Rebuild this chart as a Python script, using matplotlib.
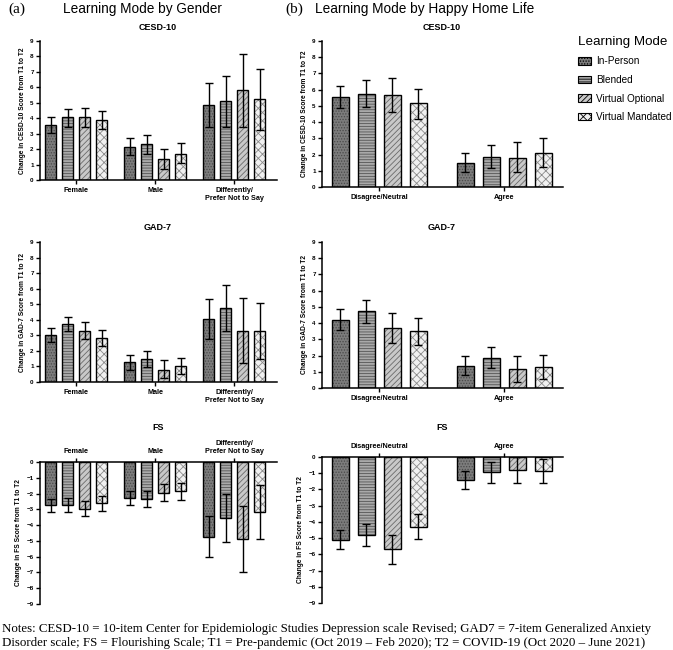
import matplotlib
matplotlib.use("Agg")
import matplotlib.pyplot as plt
import numpy as np
from matplotlib.patches import Patch

plt.rcParams['font.family'] = ['Liberation Sans', 'DejaVu Sans']
plt.rcParams['hatch.linewidth'] = 0.6

modes = ["In-Person", "Blended", "Virtual Optional", "Virtual Mandated"]
gender_groups = ["Female", "Male", "Differently/\nPrefer Not to Say"]
home_groups = ["Disagree/Neutral", "Agree"]

# means [group][mode], lower and upper error limits
cesd_gender_mean = [[3.55, 4.05, 4.05, 3.9], [2.15, 2.3, 1.35, 1.7], [4.85, 5.1, 5.8, 5.25]]
cesd_gender_lo = [[3.05, 3.45, 3.45, 3.3], [1.6, 1.7, 0.7, 1.1], [3.45, 3.4, 3.45, 3.25]]
cesd_gender_hi = [[4.05, 4.6, 4.65, 4.5], [2.7, 2.9, 2.0, 2.4], [6.3, 6.75, 8.15, 7.2]]

cesd_home_mean = [[5.55, 5.75, 5.65, 5.15], [1.5, 1.85, 1.8, 2.1]]
cesd_home_lo = [[4.85, 4.95, 4.6, 4.2], [0.9, 1.15, 0.9, 1.25]]
cesd_home_hi = [[6.25, 6.6, 6.7, 6.05], [2.1, 2.6, 2.75, 3.0]]

gad_gender_mean = [[3.0, 3.7, 3.3, 2.8], [1.3, 1.45, 0.8, 1.0], [4.05, 4.75, 3.25, 3.3]]
gad_gender_lo = [[2.6, 3.25, 2.75, 2.3], [0.8, 0.95, 0.25, 0.5], [2.75, 3.25, 1.2, 1.5]]
gad_gender_hi = [[3.45, 4.2, 3.85, 3.35], [1.75, 2.0, 1.4, 1.55], [5.35, 6.25, 5.4, 5.1]]

gad_home_mean = [[4.2, 4.75, 3.7, 3.5], [1.35, 1.85, 1.15, 1.3]]
gad_home_lo = [[3.55, 4.0, 2.8, 2.65], [0.8, 1.25, 0.35, 0.55]]
gad_home_hi = [[4.85, 5.45, 4.65, 4.3], [1.95, 2.55, 2.0, 2.05]]

fs_gender_mean = [[-2.75, -2.7, -2.95, -2.6], [-2.25, -2.35, -1.95, -1.85], [-4.75, -3.55, -4.85, -3.15]]
fs_gender_lo = [[-3.15, -3.15, -3.45, -3.1], [-2.75, -2.85, -2.5, -2.4], [-6.0, -5.05, -6.95, -4.9]]
fs_gender_hi = [[-2.35, -2.25, -2.45, -2.15], [-1.85, -1.85, -1.4, -1.35], [-3.45, -2.05, -2.8, -1.45]]

fs_home_mean = [[-5.1, -4.8, -5.7, -4.3], [-1.4, -0.95, -0.8, -0.85]]
fs_home_lo = [[-5.7, -5.5, -6.6, -5.05], [-1.95, -1.6, -1.6, -1.6]]
fs_home_hi = [[-4.5, -4.1, -4.8, -3.5], [-0.85, -0.3, 0.0, -0.1]]

styles = [
    dict(face="#7c7c7c", hatch="......", hc="#4a4a4a"),
    dict(face="#a9a9a9", hatch="------", hc="#555555"),
    dict(face="#c9c9c9", hatch="//////", hc="#6a6a6a"),
    dict(face="#f0f0f0", hatch="xxxx", hc="#8a8a8a"),
]

W, H = 673, 650
fig = plt.figure(figsize=(W / 100, H / 100), dpi=100)


def ax_px(x0, x1, ytop, ybot):
    return fig.add_axes([x0 / W, 1 - ybot / H, (x1 - x0) / W, (ybot - ytop) / H])


def draw(ax, groups, mean, lo, hi, pitch, width, xlim, ylim, ylabel, neg=False):
    mean = np.array(mean); lo = np.array(lo); hi = np.array(hi)
    ng = len(groups)
    centers = np.arange(ng)
    for m in range(4):
        xs = centers + (m - 1.5) * pitch
        st = styles[m]
        ax.bar(xs, mean[:, m], width, color=st["face"], hatch=st["hatch"],
               edgecolor=st["hc"], linewidth=0, zorder=2)
        ax.bar(xs, mean[:, m], width, fill=False, edgecolor="black",
               linewidth=1.0, zorder=3)
        ax.errorbar(xs, mean[:, m], yerr=[mean[:, m] - lo[:, m], hi[:, m] - mean[:, m]],
                    fmt="none", ecolor="black", elinewidth=1.0, capsize=3.2,
                    capthick=1.0, zorder=4)
    ax.set_xlim(*xlim)
    ax.set_ylim(*ylim)
    if neg:
        ax.set_yticks(np.arange(0, -10, -1))
        ax.spines['bottom'].set_visible(False)
        ax.spines['top'].set_visible(True)
        ax.xaxis.tick_top()
        ax.spines['top'].set_linewidth(1.1)
    else:
        ax.set_yticks(np.arange(0, 10, 1))
        ax.spines['top'].set_visible(False)
        ax.spines['bottom'].set_linewidth(1.1)
    ax.spines['right'].set_visible(False)
    ax.spines['left'].set_linewidth(1.1)
    ax.set_xticks(centers)
    ax.set_xticklabels(groups, fontsize=5.2, fontweight="bold", linespacing=1.3)
    ax.tick_params(axis='x', length=3, width=1.0, pad=2)
    ax.tick_params(axis='y', length=3, width=1.0, pad=1.5, labelsize=4.5)
    for t in ax.get_yticklabels():
        t.set_fontweight("bold")
    ax.set_ylabel(ylabel, fontsize=4.8, fontweight="bold", labelpad=3)
    ax.patch.set_alpha(0)


# panel a geometry
a_pitch, a_width = 0.215, 0.14
a_xlim = (-0.456, 2.54)
b_pitch, b_width = 0.208, 0.136
b_xlim = (-0.456, 1.47)

ax1 = ax_px(40, 277, 41, 180)
draw(ax1, gender_groups, cesd_gender_mean, cesd_gender_lo, cesd_gender_hi,
     a_pitch, a_width, a_xlim, (0, 9), "Change in CESD-10 Score from T1 to T2")
ax2 = ax_px(322, 563, 41, 187)
draw(ax2, home_groups, cesd_home_mean, cesd_home_lo, cesd_home_hi,
     b_pitch, b_width, b_xlim, (0, 9), "Change in CESD-10 Score from T1 to T2")
ax3 = ax_px(40, 277, 242, 382)
draw(ax3, gender_groups, gad_gender_mean, gad_gender_lo, gad_gender_hi,
     a_pitch, a_width, a_xlim, (0, 9), "Change in GAD-7 Score from T1 to T2")
ax4 = ax_px(322, 563, 242, 388)
draw(ax4, home_groups, gad_home_mean, gad_home_lo, gad_home_hi,
     b_pitch, b_width, b_xlim, (0, 9), "Change in GAD-7 Score from T1 to T2")
ax5 = ax_px(40, 277, 462, 604)
draw(ax5, gender_groups, fs_gender_mean, fs_gender_lo, fs_gender_hi,
     a_pitch, a_width, a_xlim, (-9, 0), "Change in FS Score from T1 to T2", neg=True)
ax6 = ax_px(322, 563, 457, 603)
draw(ax6, home_groups, fs_home_mean, fs_home_lo, fs_home_hi,
     b_pitch, b_width, b_xlim, (-9, 0), "Change in FS Score from T1 to T2", neg=True)


def ftext(x, y, s, **kw):
    fig.text(x / W, 1 - y / H, s, **kw)


ftext(8, 9, "(a)", fontsize=11, family="Liberation Serif", va="center")
ftext(142, 9, "Learning Mode by Gender", fontsize=9.8, ha="center", va="center")
ftext(285, 9, "(b)", fontsize=11, family="Liberation Serif", va="center")
ftext(425, 9, "Learning Mode by Happy Home Life", fontsize=9.8, ha="center", va="center")

for (x, y, s) in [(158, 28, "CESD-10"), (442, 28, "CESD-10"),
                  (158, 227, "GAD-7"), (442, 227, "GAD-7"),
                  (158, 428, "FS"), (442, 428, "FS")]:
    ftext(x, y, s, fontsize=6.5, fontweight="bold", ha="center", va="center")

handles = [Patch(facecolor=s["face"], hatch=s["hatch"], edgecolor="black", linewidth=0.8)
           for s in styles]
leg = fig.legend(handles, modes, loc="upper left", bbox_to_anchor=(569 / W, 1 - 27 / H),
                 frameon=False, fontsize=7.2, title="Learning Mode", title_fontsize=9.6,
                 handlelength=1.3, handleheight=0.75, labelspacing=0.85, handletextpad=0.55)
leg._legend_box.align = "left"

notes = ("Notes: CESD-10 = 10-item Center for Epidemiologic Studies Depression scale Revised; GAD7 = 7-item Generalized Anxiety\n"
         "Disorder scale; FS = Flourishing Scale; T1 = Pre-pandemic (Oct 2019 \u2013 Feb 2020); T2 = COVID-19 (Oct 2020 \u2013 June 2021)")
ftext(2, 636, notes, fontsize=9.25, family="Liberation Serif", va="center", linespacing=1.18)

fig.savefig("out.png", dpi=100)
